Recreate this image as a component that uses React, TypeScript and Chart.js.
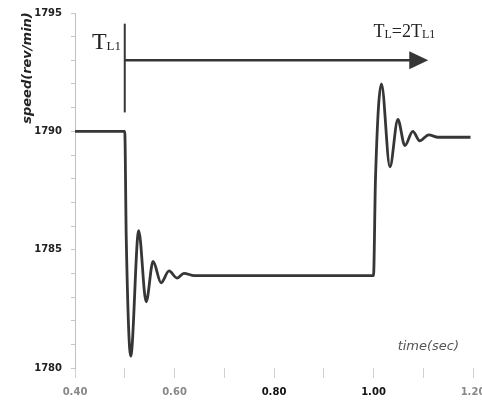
import React, { useEffect, useRef } from "react";
import Chart from "chart.js/auto";

// ---- data ----
const timeSec = [
  0.40, 0.50, 0.503, 0.512, 0.528, 0.543, 0.557, 0.573, 0.589, 0.605, 0.619, 0.64,
  0.70, 0.80, 0.90, 1.00, 1.004, 1.016, 1.033, 1.049, 1.063, 1.079, 1.093, 1.111,
  1.13, 1.16, 1.195,
];
const speedRpm = [
  1790, 1790, 1785.5, 1780.5, 1785.8, 1782.8, 1784.5, 1783.6, 1784.1, 1783.8, 1784.0, 1783.9,
  1783.9, 1783.9, 1783.9, 1783.9, 1788.0, 1792.0, 1788.5, 1790.5, 1789.4, 1790.0, 1789.6, 1789.85,
  1789.75, 1789.75, 1789.75,
];
const xTickValues = [0.4, 0.6, 0.8, 1.0, 1.2];
const yTickValues = [1780, 1785, 1790, 1795];
const yAxisTitle = "speed(rev/min)";
const xAxisTitle = "time(sec)";

// annotation anchors (in data units)
const loadStepTime = 0.5;
const markerTop = 1794.55;
const markerBottom = 1790.8;
const arrowSpeed = 1793.0;
const arrowTipTime = 1.11;
const label1Parts = [
  { t: "T", sub: false },
  { t: "L1", sub: true },
];
const label1Pos = { x: 0.434, y: 1793.5 };
const label2Parts = [
  { t: "T", sub: false },
  { t: "L", sub: true },
  { t: "=2T", sub: false },
  { t: "L1", sub: true },
];
const label2Pos = { x: 1.0, y: 1793.98 };
const xTitlePos = { x: 1.172, y: 1780.76 };

const INK = "#363636";

function drawRuns(ctx: CanvasRenderingContext2D, parts: { t: string; sub: boolean }[], x: number, y: number, big: number, small: number) {
  let cx = x;
  ctx.textAlign = "left";
  ctx.textBaseline = "alphabetic";
  for (const p of parts) {
    ctx.font = `${p.sub ? small : big}px "Liberation Serif", serif`;
    ctx.fillText(p.t, cx, y + (p.sub ? 1 : 0));
    cx += ctx.measureText(p.t).width;
  }
}

const annotate = {
  id: "annotate",
  afterDatasetsDraw(chart: any) {
    const { ctx, scales } = chart;
    const xs = scales.x;
    const ys = scales.y;
    ctx.save();
    ctx.strokeStyle = INK;
    ctx.fillStyle = INK;
    // vertical marker
    ctx.lineWidth = 2;
    const mx = xs.getPixelForValue(loadStepTime);
    ctx.beginPath();
    ctx.moveTo(mx, ys.getPixelForValue(markerTop));
    ctx.lineTo(mx, ys.getPixelForValue(markerBottom));
    ctx.stroke();
    // arrow
    const ay = ys.getPixelForValue(arrowSpeed);
    const tip = xs.getPixelForValue(arrowTipTime);
    ctx.lineWidth = 2.5;
    ctx.beginPath();
    ctx.moveTo(mx, ay);
    ctx.lineTo(tip - 16, ay);
    ctx.stroke();
    ctx.beginPath();
    ctx.moveTo(tip, ay);
    ctx.lineTo(tip - 19, ay - 9);
    ctx.lineTo(tip - 19, ay + 9);
    ctx.closePath();
    ctx.fill();
    // texts
    ctx.fillStyle = "#222";
    drawRuns(ctx, label1Parts, xs.getPixelForValue(label1Pos.x), ys.getPixelForValue(label1Pos.y), 24, 13);
    drawRuns(ctx, label2Parts, xs.getPixelForValue(label2Pos.x), ys.getPixelForValue(label2Pos.y), 18, 12);
    // x title
    ctx.fillStyle = "#555";
    ctx.font = 'italic 13px "DejaVu Sans", sans-serif';
    ctx.textAlign = "right";
    ctx.textBaseline = "alphabetic";
    ctx.fillText(xAxisTitle, xs.getPixelForValue(xTitlePos.x), ys.getPixelForValue(xTitlePos.y));
    // y title
    ctx.fillStyle = "#222";
    ctx.font = 'bold italic 13px "DejaVu Sans", sans-serif';
    ctx.translate(28, 68);
    ctx.rotate(-Math.PI / 2);
    ctx.textAlign = "center";
    ctx.textBaseline = "middle";
    ctx.fillText(yAxisTitle, 0, 0);
    ctx.restore();
  },
};

export default function App() {
  const ref = useRef<HTMLCanvasElement | null>(null);
  useEffect(() => {
    if (!ref.current) return;
    const chart = new Chart(ref.current, {
      type: "line",
      data: {
        datasets: [
          {
            data: timeSec.map((t, i) => ({ x: t, y: speedRpm[i] })),
            borderColor: INK,
            borderWidth: 2.8,
            pointRadius: 0,
            cubicInterpolationMode: "monotone",
            fill: false,
          },
        ],
      },
      options: {
        animation: false,
        responsive: false,
        devicePixelRatio: 1,
        layout: { padding: { top: 13, right: 9, bottom: 0, left: 0 } },
        plugins: { legend: { display: false }, tooltip: { enabled: false } },
        scales: {
          x: {
            type: "linear",
            min: 0.4,
            max: 1.2,
            afterFit: (a: any) => {
              a.height = 34;
              a.paddingLeft = 0;
              a.paddingRight = 0;
            },
            afterBuildTicks: (a: any) => {
              const out: any[] = [];
              for (let k = 0; k <= 8; k++) out.push({ value: Math.round((0.4 + k * 0.1) * 100) / 100 });
              a.ticks = out;
            },
            ticks: {
              autoSkip: false,
              maxRotation: 0,
              padding: 8,
              font: { family: "DejaVu Sans", weight: "bold", size: 10 },
              color: (c: any) => {
                const v = Math.round(c.tick.value * 10) / 10;
                return v === 0.8 || v === 1.0 ? "#111" : "#888";
              },
              callback: (v: any) => {
                const r = Math.round(Number(v) * 10) / 10;
                return xTickValues.some((t) => Math.abs(t - r) < 1e-6) ? r.toFixed(2) : "";
              },
            },
            grid: { drawOnChartArea: false, tickLength: 10, color: "#d0d0d0", lineWidth: 1 },
            border: { display: false },
          },
          y: {
            type: "linear",
            min: 1780,
            max: 1795,
            afterFit: (a: any) => {
              a.width = 75;
              a.paddingTop = 0;
              a.paddingBottom = 0;
            },
            afterBuildTicks: (a: any) => {
              const out: any[] = [];
              for (let v = 1780; v <= 1795; v++) out.push({ value: v });
              a.ticks = out;
            },
            ticks: {
              autoSkip: false,
              padding: 9,
              color: "#222",
              font: { family: "DejaVu Sans", weight: "bold", size: 10 },
              callback: (v: any) => (yTickValues.includes(Number(v)) ? String(v) : ""),
            },
            grid: { drawOnChartArea: false, tickLength: 4, color: "#c8c8c8" },
            border: { display: true, dash: [2, 3], color: "#c0c0c0" },
          },
        },
      },
      plugins: [annotate],
    } as any);
    return () => chart.destroy();
  }, []);
  return (
    <div style={{ position: "fixed", left: 0, top: 0, width: 482, height: 402, background: "#fff" }}>
      <canvas ref={ref} width={482} height={402} style={{ width: 482, height: 402 }} />
    </div>
  );
}
